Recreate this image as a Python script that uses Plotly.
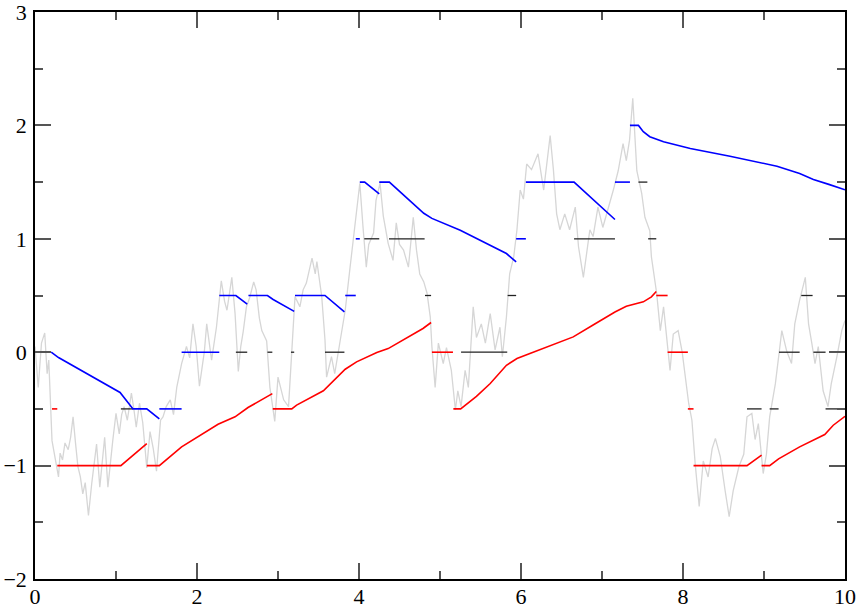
import plotly.graph_objects as go

# ---- gray sample path ----
path_x = [0.00, 0.04, 0.08, 0.12, 0.15, 0.17, 0.21, 0.24, 0.29, 0.31, 0.34, 0.37, 0.41, 0.44, 0.47, 0.50,
          0.53, 0.56, 0.59, 0.62, 0.66, 0.70, 0.73, 0.76, 0.80, 0.83, 0.86, 0.90, 0.93, 0.96, 1.00, 1.04,
          1.07, 1.10, 1.14, 1.19, 1.22, 1.25, 1.29, 1.33, 1.38, 1.42, 1.46, 1.50, 1.55, 1.58, 1.62, 1.67,
          1.71, 1.75, 1.81, 1.87, 1.91, 1.95, 1.99, 2.03, 2.06, 2.09, 2.12, 2.18, 2.24, 2.30, 2.34, 2.37,
          2.43, 2.47, 2.51, 2.54, 2.57, 2.61, 2.65, 2.70, 2.73, 2.77, 2.80, 2.86, 2.90, 2.96, 3.00, 3.04,
          3.07, 3.13, 3.17, 3.21, 3.27, 3.31, 3.35, 3.42, 3.46, 3.48, 3.54, 3.58, 3.60, 3.66, 3.70, 3.77,
          3.83, 3.89, 3.95, 4.01, 4.05, 4.09, 4.12, 4.18, 4.21, 4.26, 4.30, 4.36, 4.42, 4.46, 4.50, 4.55,
          4.61, 4.67, 4.71, 4.75, 4.80, 4.84, 4.88, 4.90, 4.94, 4.98, 5.04, 5.08, 5.14, 5.19, 5.22, 5.26,
          5.31, 5.35, 5.41, 5.45, 5.51, 5.56, 5.62, 5.68, 5.74, 5.77, 5.82, 5.86, 5.91, 5.95, 5.99, 6.03,
          6.07, 6.13, 6.21, 6.28, 6.36, 6.40, 6.44, 6.48, 6.54, 6.60, 6.67, 6.71, 6.77, 6.82, 6.85, 6.89,
          6.95, 7.01, 7.07, 7.14, 7.20, 7.26, 7.30, 7.34, 7.38, 7.43, 7.49, 7.53, 7.59, 7.61, 7.675, 7.72,
          7.76, 7.84, 7.88, 7.94, 7.99, 8.07, 8.11, 8.15, 8.20, 8.25, 8.31, 8.36, 8.40, 8.46, 8.52, 8.57,
          8.62, 8.69, 8.75, 8.79, 8.85, 8.89, 8.93, 8.99, 9.03, 9.07, 9.14, 9.18, 9.22, 9.28, 9.34, 9.38,
          9.44, 9.51, 9.55, 9.59, 9.63, 9.67, 9.73, 9.79, 9.83, 9.90, 9.96, 10.0]
path_y = [0.05, -0.31, 0.08, 0.17, -0.19, -0.07, -0.78, -0.89, -1.10, -0.89, -0.95, -0.80, -0.86, -0.75, -0.57, -0.80,
          -1.01, -1.10, -1.25, -1.15, -1.44, -1.16, -1.00, -0.81, -1.19, -0.95, -0.75, -1.19, -0.95, -0.78, -0.54, -0.72,
          -0.55, -0.48, -0.60, -0.36, -0.50, -0.66, -0.45, -0.62, -1.02, -0.70, -0.85, -1.05, -0.60, -0.57, -0.48, -0.42,
          -0.55, -0.31, -0.10, 0.05, -0.05, 0.25, 0.05, -0.30, -0.15, 0.00, 0.25, -0.07, 0.22, 0.63, 0.45, 0.37,
          0.66, 0.34, -0.17, 0.05, 0.18, 0.40, 0.48, 0.62, 0.55, 0.30, 0.19, 0.10, -0.31, -0.61, -0.22, -0.35,
          -0.42, -0.48, 0.02, 0.49, 0.40, 0.55, 0.61, 0.83, 0.69, 0.80, 0.49, 0.11, -0.22, -0.04, -0.19, 0.11,
          0.37, 0.75, 1.10, 1.49, 1.10, 0.75, 0.95, 1.05, 1.34, 1.49, 1.20, 0.96, 0.81, 1.14, 0.95, 0.90,
          0.75, 1.19, 0.90, 0.69, 0.62, 0.52, 0.31, 0.05, -0.31, 0.08, -0.10, 0.04, -0.16, -0.51, -0.34, -0.48,
          -0.16, -0.31, 0.40, 0.13, 0.25, 0.08, 0.34, 0.02, 0.22, -0.04, 0.31, 0.69, 0.84, 1.08, 1.43, 1.35,
          1.66, 1.61, 1.75, 1.43, 1.91, 1.61, 1.22, 1.08, 1.22, 1.08, 1.28, 0.93, 0.66, 0.90, 1.08, 1.02,
          1.28, 1.10, 1.25, 1.43, 1.60, 1.84, 1.69, 1.87, 2.24, 1.60, 1.40, 1.19, 1.07, 0.84, 0.52, 0.19,
          0.40, -0.16, 0.16, 0.19, 0.00, -0.45, -0.60, -0.98, -1.36, -0.96, -1.10, -0.85, -0.76, -0.92, -1.22, -1.45,
          -1.22, -1.01, -0.90, -0.57, -0.54, -0.77, -0.63, -1.07, -0.90, -0.57, -0.28, -0.04, 0.19, 0.01, -0.10, 0.25,
          0.46, 0.66, 0.25, 0.08, -0.10, 0.05, -0.34, -0.48, -0.28, -0.04, 0.19, 0.28]

# ---- blue (upper) pieces ----
blue_x = [
    [0.20, 0.29, 1.05, 1.21, 1.38, 1.535],
    [1.535, 1.81],
    [1.81, 2.275],
    [2.275, 2.48, 2.62],
    [2.635, 2.87, 2.94, 3.20],
    [3.21, 3.58, 3.82],
    [3.83, 3.96],
    [3.96, 4.01],
    [4.01, 4.07, 4.25],
    [4.25, 4.375, 4.63, 4.80, 4.90, 5.25, 5.82, 5.94],
    [5.94, 6.06],
    [6.06, 6.655, 7.16],
    [7.16, 7.345],
    [7.345, 7.45, 7.51, 7.59, 7.76, 8.09, 8.58, 9.16, 9.44, 9.61, 9.80, 10.0],
]
blue_y = [
    [0.0, -0.047, -0.355, -0.5, -0.5, -0.588],
    [-0.5, -0.5],
    [0.0, 0.0],
    [0.5, 0.5, 0.423],
    [0.5, 0.5, 0.465, 0.36],
    [0.5, 0.5, 0.356],
    [0.5, 0.5],
    [1.0, 1.0],
    [1.5, 1.5, 1.396],
    [1.5, 1.5, 1.335, 1.225, 1.18, 1.076, 0.87, 0.796],
    [1.0, 1.0],
    [1.5, 1.5, 1.17],
    [1.5, 1.5],
    [2.0, 2.0, 1.945, 1.90, 1.855, 1.796, 1.728, 1.64, 1.576, 1.523, 1.48, 1.432],
]

# ---- red (lower) pieces ----
red_x = [
    [0.21, 0.275],
    [0.275, 1.06, 1.38],
    [1.38, 1.535, 1.81, 2.26, 2.47, 2.63, 2.93],
    [2.935, 3.17, 3.23, 3.56, 3.83, 3.97, 4.22, 4.36, 4.79, 4.89],
    [4.90, 5.16],
    [5.165, 5.255, 5.45, 5.62, 5.82, 5.95, 6.11, 6.645, 6.89, 7.16, 7.30, 7.51, 7.61, 7.67],
    [7.67, 7.81],
    [7.81, 8.06],
    [8.06, 8.13],
    [8.13, 8.79, 8.97],
    [8.97, 9.07, 9.18, 9.44, 9.75, 9.855, 10.0],
]
red_y = [
    [-0.5, -0.5],
    [-1.0, -1.0, -0.806],
    [-1.0, -1.0, -0.835, -0.635, -0.57, -0.488, -0.365],
    [-0.5, -0.5, -0.467, -0.34, -0.15, -0.085, -0.003, 0.032, 0.209, 0.262],
    [0.0, 0.0],
    [-0.5, -0.5, -0.39, -0.276, -0.115, -0.056, -0.012, 0.135, 0.24, 0.355, 0.405, 0.444, 0.488, 0.535],
    [0.5, 0.5],
    [0.0, 0.0],
    [-0.5, -0.5],
    [-1.0, -1.0, -0.908],
    [-1.0, -1.0, -0.94, -0.835, -0.726, -0.644, -0.565],
]

# ---- black level dashes ----
black_level = [-0.5, 0.0, 0.0, 0.0, 0.0, 1.0, 1.0, 0.5, 0.0, 0.5, 1.0, 1.5, 1.0,
               -0.5, -0.5, 0.0, 0.5, 0.0, -0.5]
black_x0 = [1.06, 2.48, 2.87, 3.16, 3.58, 4.065, 4.37, 4.815, 5.26, 5.835, 6.655, 7.45, 7.57,
            8.79, 9.07, 9.185, 9.46, 9.61, 9.76]
black_x1 = [1.21, 2.62, 2.93, 3.20, 3.82, 4.25, 4.81, 4.89, 5.83, 5.94, 7.16, 7.56, 7.67,
            8.97, 9.18, 9.44, 9.60, 9.76, 9.92]

x_ticks = [0, 2, 4, 6, 8, 10]
y_ticks = [-2, -1, 0, 1, 2, 3]


def join(xs_list, ys_list):
    X, Y = [], []
    for xs, ys in zip(xs_list, ys_list):
        X += list(xs) + [None]
        Y += list(ys) + [None]
    return X, Y


fig = go.Figure()
fig.add_trace(go.Scatter(x=path_x, y=path_y, mode="lines",
                         line=dict(color="#d6d6d6", width=1.3), hoverinfo="skip"))

bx, by = join([[a, b] for a, b in zip(black_x0, black_x1)], [[l, l] for l in black_level])
fig.add_trace(go.Scatter(x=bx, y=by, mode="lines", line=dict(color="#222222", width=1.3)))

rx, ry = join(red_x, red_y)
fig.add_trace(go.Scatter(x=rx, y=ry, mode="lines", line=dict(color="#ff0000", width=1.6)))

ux, uy = join(blue_x, blue_y)
fig.add_trace(go.Scatter(x=ux, y=uy, mode="lines", line=dict(color="#0000ff", width=1.6)))

axis_common = dict(
    showline=True, linecolor="black", linewidth=1.5, mirror="ticks",
    ticks="inside", ticklen=16, tickwidth=1.5, tickcolor="#555555",
    showgrid=False, zeroline=False, automargin=False, ticklabeloverflow="allow",
    tickfont=dict(family="Liberation Serif", size=22, color="black"),
)

fig.update_layout(
    width=858, height=608,
    margin=dict(l=35, r=13, t=12, b=29),
    paper_bgcolor="white", plot_bgcolor="white",
    showlegend=False,
    xaxis=dict(range=[0, 10], tickvals=x_ticks, ticklabelstandoff=-3,
               minor=dict(dtick=1, ticklen=8, tickwidth=1.5, tickcolor="#555555", ticks="inside"),
               **axis_common),
    yaxis=dict(range=[-2, 3], tickvals=y_ticks, ticklabelstandoff=2,
               minor=dict(dtick=0.5, ticklen=8, tickwidth=1.5, tickcolor="#555555", ticks="inside"),
               **axis_common),
)

# remove the default 8px page margin so the figure sits at the window's corner
fig.write_html("out.html", config={"displayModeBar": False},
               post_script="document.body.style.margin='0';")
